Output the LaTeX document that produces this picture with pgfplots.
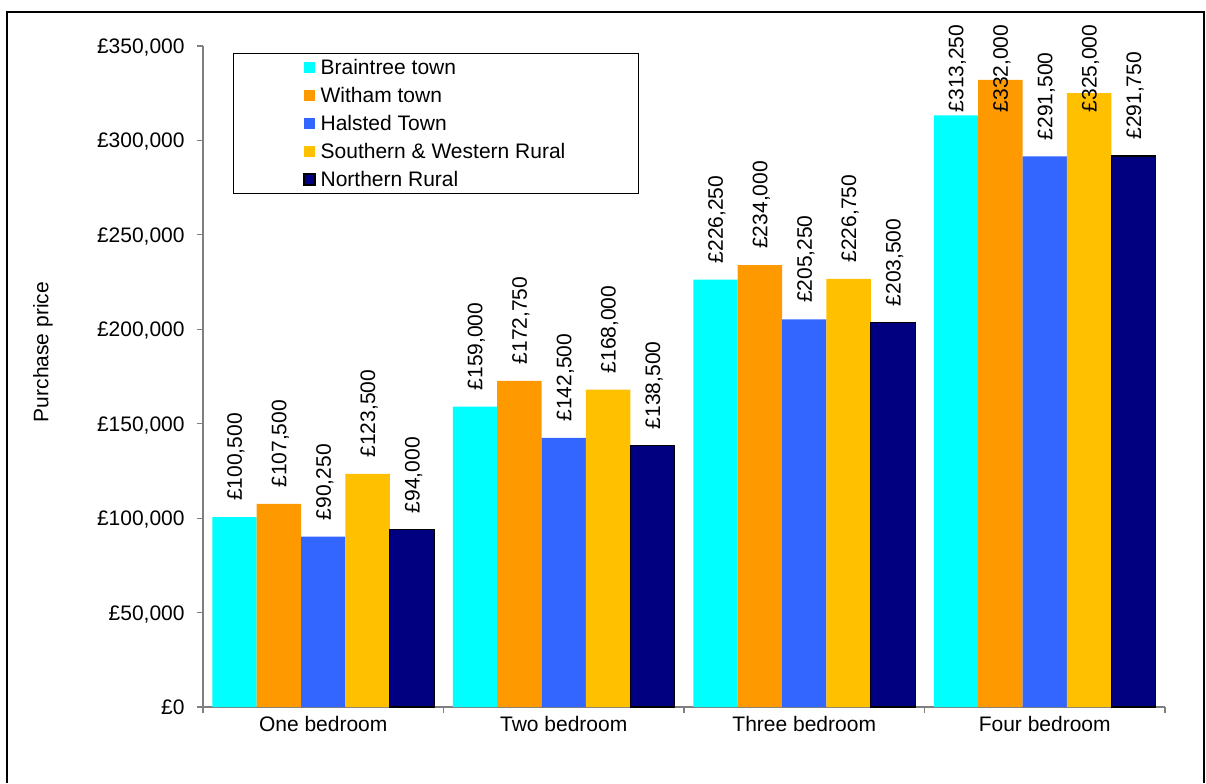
\documentclass[border=0pt]{standalone}
\usepackage{fontspec}
\setmainfont{Liberation Sans}
\usepackage{pgfplots}
\pgfplotsset{compat=1.18}
\usepackage{pgfplotstable}
\definecolor{cBr}{HTML}{00FFFF}
\definecolor{cWi}{HTML}{FF9900}
\definecolor{cHa}{HTML}{3366FF}
\definecolor{cSW}{HTML}{FFC000}
\definecolor{cNo}{HTML}{000080}
\definecolor{axgray}{HTML}{808080}

\pgfplotstableread{
x y
-0.3692 100500
0.6308 159000
1.6308 226250
2.6308 313250
}\tBr
\pgfplotstableread{
x y
-0.1846 107500
0.8154 172750
1.8154 234000
2.8154 332000
}\tWi
\pgfplotstableread{
x y
0 90250
1 142500
2 205250
3 291500
}\tHa
\pgfplotstableread{
x y
0.1846 123500
1.1846 168000
2.1846 226750
3.1846 325000
}\tSW
\pgfplotstableread{
x y
0.3692 94000
1.3692 138500
2.3692 203500
3.3692 291750
}\tNo
% label positions (the tallest labels of the last group are held below the top of the chart)
\pgfplotstableread{
x y label
-0.3692 100500 £100,500
-0.1846 107500 £107,500
0 90250 £90,250
0.1846 123500 £123,500
0.3692 94000 £94,000
0.6308 159000 £159,000
0.8154 172750 £172,750
1 142500 £142,500
1.1846 168000 £168,000
1.3692 138500 £138,500
1.6308 226250 £226,250
1.8154 234000 £234,000
2 205250 £205,250
2.1846 226750 £226,750
2.3692 203500 £203,500
2.6308 306250 £313,250
2.8154 306250 £332,000
3 291500 £291,500
3.1846 306250 £325,000
3.3692 291750 £291,750
}\tLab

\pgfplotsset{
  sqlegend/.style={legend image code/.code={\path[##1] (0pt,-2.75pt) rectangle (5.5pt,2.75pt); \path (8pt,0pt);}},
  mybar/.style={ybar, bar width=0.1846, bar shift=0pt, sqlegend},
}

\begin{document}
\begin{tikzpicture}
\useasboundingbox (0,0) rectangle (603pt,391.5pt);
\draw[line width=1pt] (3.5pt,0) -- (3.5pt,385.5pt) -- (602.2pt,385.5pt) -- (602.2pt,0);
\begin{axis}[
  at={(101.5pt,38pt)}, anchor=south west,
  scale only axis, width=481pt, height=330.5pt,
  xmin=-0.5, xmax=3.5, ymin=0, ymax=350000,
  axis lines*=left,
  axis line style={draw=axgray, line width=0.6pt},
  clip=false,
  scaled y ticks=false,
  font=\fontsize{10.5}{12.6}\selectfont,
  /pgf/number format/assume math mode=true,
  xtick={0,1,2,3},
  xticklabels={One bedroom,Two bedroom,Three bedroom,Four bedroom},
  major x tick style={draw=none},
  minor xtick={-0.5,0.5,1.5,2.5,3.5},
  tick align=outside,
  major tick length=3pt, minor tick length=3pt,
  every tick/.style={draw=axgray, line width=0.6pt},
  ytick={0,50000,100000,150000,200000,250000,300000,350000},
  yticklabels={£0,{£50,000},{£100,000},{£150,000},{£200,000},{£250,000},{£300,000},{£350,000}},
  yticklabel style={anchor=east, inner sep=0pt, text height=7.5pt, text depth=0pt, xshift=-6pt},
  xticklabel style={anchor=north, inner sep=0pt, text height=7.7pt, text depth=0pt, yshift=-1.5pt},
  ylabel={Purchase price},
  ylabel style={at={(axis description cs:-0.1663,0.537)}, anchor=center},
  legend style={at={(axis description cs:0.104,0.9894)}, anchor=north west, draw=none, fill=none,
    inner sep=0pt, row sep=0pt,
    nodes={inner sep=0pt, text height=10.75pt, text depth=3.25pt, anchor=west}},
  legend cell align=left,
]
\draw[black, line width=0.5pt] (axis description cs:0.0322,0.7776) rectangle (axis description cs:0.4522,0.9894);
\addplot[mybar, fill=cBr, draw=none] table[x=x,y=y]{\tBr};
\addlegendentry{Braintree town}
\addplot[mybar, fill=cWi, draw=none] table[x=x,y=y]{\tWi};
\addlegendentry{Witham town}
\addplot[mybar, fill=cHa, draw=none] table[x=x,y=y]{\tHa};
\addlegendentry{Halsted Town}
\addplot[mybar, fill=cSW, draw=none] table[x=x,y=y]{\tSW};
\addlegendentry{Southern \& Western Rural}
\addplot[mybar, fill=cNo, draw=black, line width=0.6pt] table[x=x,y=y]{\tNo};
\addlegendentry{Northern Rural}
\addplot[forget plot, only marks, mark=none, nodes near coords, point meta=explicit symbolic,
  every node near coord/.style={rotate=90, anchor=west, inner sep=0pt, text height=7.5pt, text depth=0pt, xshift=8pt}]
  table[x=x,y=y,meta=label]{\tLab};
\end{axis}
\end{tikzpicture}
\end{document}
